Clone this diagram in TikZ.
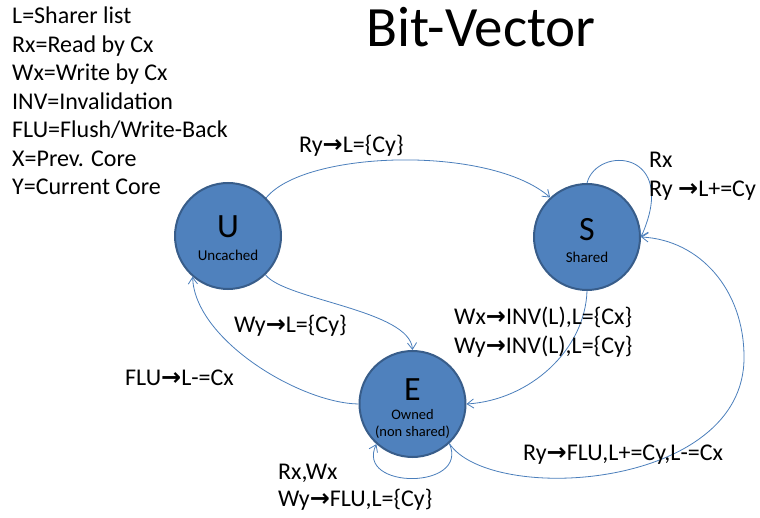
\documentclass[tikz,border=0pt]{standalone}
\usepackage{fontspec}
\setmainfont{Carlito}
\newfontfamily\arrowfont{DejaVu Sans}
\usetikzlibrary{arrows.meta,calc}
\definecolor{stfill}{HTML}{4F81BD}
\definecolor{stdraw}{HTML}{385D8A}
\definecolor{edgec}{HTML}{4A7EBB}
\newcommand\arr{{\arrowfont\bfseries →}}
\begin{document}
\begin{tikzpicture}[x=1pt,y=-1pt,
  state/.style={circle,fill=stfill,draw=stdraw,line width=2pt,minimum size=106pt,inner sep=0pt},
  bigl/.style={font=\fontsize{34}{34}\selectfont},
  smalll/.style={font=\fontsize{15}{16}\selectfont},
  smalle/.style={font=\fontsize{14.5}{16}\selectfont},
  lab/.style={anchor=base west,inner sep=0pt,font=\fontsize{24}{28}\selectfont},
  edge/.style={draw=edgec,line width=0.8pt,-{Straight Barb[angle=70:8pt]}}]
\useasboundingbox (0,0) rectangle (760,518);
% title
\node[anchor=base,inner sep=0pt,font=\fontsize{57}{60}\selectfont] (title) at (481,47) {Bit-Vector};
% legend
\node[lab] (l1) at (12,24) {L=Sharer list};
\node[lab] (l2) at (12,52.5) {Rx=Read by Cx};
\node[lab] (l3) at (12,81) {Wx=Write by Cx};
\node[lab] (l4) at (12,109.5) {INV=Invalidation};
\node[lab] (l5) at (12,138) {FLU=Flush/Write-Back};
\node[lab] (l6) at (12,166.5) {X=Prev. Core};
\node[lab] (l7) at (12,195) {Y=Current Core};
% states
\node[state] (U) at (228,236) {};
\node[state] (S) at (587,237) {};
\node[state] (E) at (412.5,404) {};
\node[bigl] (Ut) at ([yshift=9pt]U.center) {U};
\node[smalll] (Us) at ([yshift=-19pt]U.center) {Uncached};
\node[bigl] (St) at ([yshift=7pt]S.center) {S};
\node[smalll] (Ss) at ([yshift=-20pt]S.center) {Shared};
\node[bigl] (Et) at ([yshift=14pt]E.center) {E};
\node[smalle] (Es1) at ([yshift=-11pt]E.center) {Owned};
\node[smalle] (Es2) at ([yshift=-28pt]E.center) {(non shared)};
% edges
\draw[edge] (U.45) .. controls (305,150) and (490,145) .. (S.133);
\draw[edge] (S.90) .. controls (597,145) and (680,150) .. (S.0);
\draw[edge] (U.-46) .. controls (285,300) and (410,310) .. (E.90);
\draw[edge] (E.180) .. controls (300,403) and (195,340) .. (U.229);
\draw[edge] (S.270) .. controls (585,350) and (530,400) .. (E.0);
\coordinate (R) at (744,357);
\draw[edge] (E.-47) .. controls (490,505) and (745,490) .. (R) .. controls (744,290) and (700,240) .. (S.0);
\draw[edge] (E.-47) .. controls (470,490) and (355,490) .. (E.-132);
% labels
\node[lab] (a1) at (299,153) {Ry\arr L=\{Cy\}};
\node[lab] (a2) at (649,168) {Rx};
\node[lab] (a3) at (649,197) {Ry \arr L+=Cy};
\node[lab] (a4) at (234,333) {Wy\arr L=\{Cy\}};
\node[lab] (a5) at (125,385) {FLU\arr L-=Cx};
\node[lab] (a6) at (454,325) {Wx\arr INV(L),L=\{Cx\}};
\node[lab] (a7) at (454,353) {Wy\arr INV(L),L=\{Cy\}};
\node[lab] (a8) at (523,460) {Ry\arr FLU,L+=Cy,L-=Cx};
\node[lab] (a9) at (278,479) {Rx,Wx};
\node[lab] (a10) at (278,506) {Wy\arr FLU,L=\{Cy\}};
\end{tikzpicture}
\end{document}
